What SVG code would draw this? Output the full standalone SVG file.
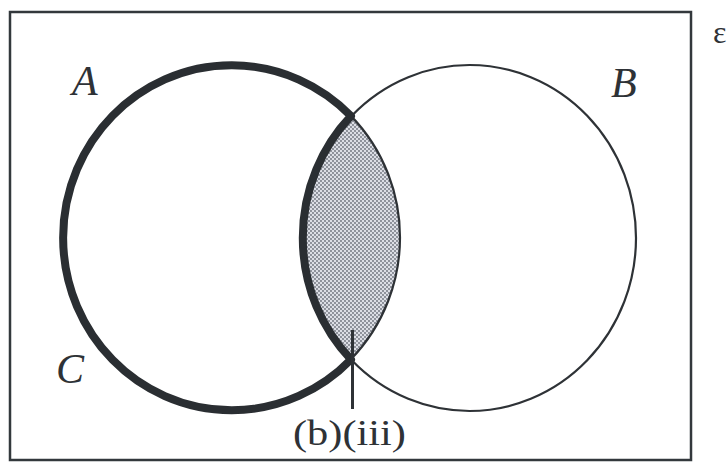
<svg xmlns="http://www.w3.org/2000/svg" width="728" height="464" viewBox="0 0 728 464">
  <style>
    .frame { fill: none; stroke: #33383c; stroke-width: 2.5; }
    .thin { fill: none; stroke: #2e3236; stroke-width: 2.2; }
    .thick { fill: none; stroke: #2a2e32; stroke-width: 8; stroke-linejoin: round; }
    .lbl { font-family: "Liberation Serif", "Times New Roman", serif; font-style: italic; font-size: 42px; fill: #2e3236; }
    .txt { font-family: "Liberation Serif", "Times New Roman", serif; fill: #2e3236; }
  </style>
  <defs>
    <pattern id="dots" width="4" height="4" patternUnits="userSpaceOnUse">
      <rect width="4" height="4" fill="#dcdee5"/>
      <circle cx="1" cy="1" r="0.9" fill="#6a6e78"/>
      <circle cx="3" cy="3" r="0.9" fill="#6a6e78"/>
    </pattern>
  </defs>
  <rect width="728" height="464" fill="#ffffff"/>
  <rect id="universe" class="frame" x="10" y="12" width="681" height="448"/>
  <text id="epsilon" class="txt" x="713" y="43" font-size="32">ε</text>

  <g id="intersection">
    <path d="M351,116 A168.5,172.5 0 0 1 351,359.5 A166.5,173 0 0 1 351,116 Z" fill="url(#dots)" stroke="none"/>
  </g>
  <g id="setB">
    <ellipse class="thin" cx="469.5" cy="238" rx="166.5" ry="173"/>
    <text class="lbl" x="611" y="97">B</text>
  </g>
  <g id="setA">
    <ellipse class="thin" cx="231.5" cy="237.5" rx="168.5" ry="172.5"/>
    <text class="lbl" x="72" y="95">A</text>
  </g>
  <g id="regionC">
    <path class="thick" d="M351,116 A168.5,172.5 0 1 0 351,359.5 A166.5,173 0 0 1 351,116 Z"/>
    <text class="lbl" x="56" y="383">C</text>
  </g>
  <g id="connectors">
    <line x1="352.5" y1="330" x2="352.5" y2="409" stroke="#2e3236" stroke-width="3"/>
  </g>
  <g id="label-biii">
    <text class="txt" x="293" y="445" font-size="36" textLength="113" lengthAdjust="spacingAndGlyphs">(b)(iii)</text>
  </g>
</svg>
